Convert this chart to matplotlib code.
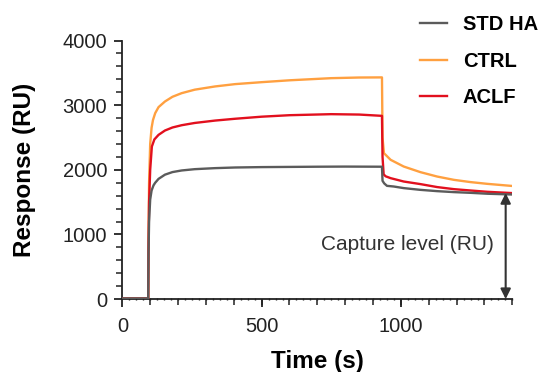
import matplotlib.pyplot as plt
from matplotlib.ticker import MultipleLocator, FixedLocator

plt.rcParams['font.family'] = ['Liberation Sans', 'DejaVu Sans']

# sensorgram readings (time in s, response in RU)
std_t = [0, 93, 94, 96, 100, 105, 112, 118, 130, 153, 180, 213, 260, 333, 405,
         500, 600, 700, 800, 932, 934, 940, 950, 974, 1010, 1070, 1130, 1190,
         1250, 1310, 1400]
std_v = [10, 10, 700, 1200, 1540, 1680, 1760, 1800, 1860, 1925, 1965, 1990,
         2010, 2026, 2036, 2042, 2045, 2048, 2050, 2048, 1830, 1790, 1752, 1742,
         1717, 1690, 1670, 1655, 1644, 1630, 1618]

ctrl_t = [0, 93, 94, 96, 100, 105, 110, 118, 130, 153, 180, 213, 260, 333, 405,
          500, 600, 750, 850, 932, 934, 939, 963, 1010, 1070, 1130, 1190, 1250,
          1310, 1400]
ctrl_v = [10, 10, 900, 1800, 2400, 2650, 2770, 2877, 2970, 3057, 3130, 3186,
          3240, 3290, 3326, 3356, 3385, 3418, 3428, 3430, 2500, 2258, 2155, 2051,
          1964, 1896, 1845, 1810, 1783, 1750]

aclf_t = [0, 93, 94, 96, 100, 106, 115, 130, 153, 180, 213, 260, 333, 405, 500,
          600, 750, 850, 932, 934, 938, 945, 963, 1010, 1070, 1130, 1190, 1250,
          1310, 1400]
aclf_v = [10, 10, 800, 1500, 2000, 2360, 2470, 2541, 2608, 2655, 2690, 2725,
          2762, 2790, 2822, 2845, 2861, 2855, 2835, 2200, 1930, 1900, 1871, 1819,
          1779, 1733, 1701, 1680, 1660, 1640]

labels = ['STD HA', 'CTRL', 'ACLF']
colors = ['#5b5b5b', '#ffa040', '#e2101e']

capture_t = 1376
capture_top = 1640

fig = plt.figure(figsize=(5.42, 3.72), dpi=100)
ax = fig.add_axes([0.2257, 0.196, 0.7196, 0.695])

h_ctrl, = ax.plot(ctrl_t, ctrl_v, color=colors[1], lw=1.7, zorder=2)
h_aclf, = ax.plot(aclf_t, aclf_v, color=colors[2], lw=1.7, zorder=3)
h_std, = ax.plot(std_t, std_v, color=colors[0], lw=1.7, zorder=4)

ax.set_xlim(0, 1400)
ax.set_ylim(0, 4000)
for s in ['top', 'right']:
    ax.spines[s].set_visible(False)
for s in ['left', 'bottom']:
    ax.spines[s].set_linewidth(1.3)
    ax.spines[s].set_color('#222222')

ax.xaxis.set_major_locator(FixedLocator([0, 500, 1000]))
ax.xaxis.set_minor_locator(MultipleLocator(25))
ax.yaxis.set_major_locator(MultipleLocator(1000))
ax.yaxis.set_minor_locator(MultipleLocator(200))
ax.tick_params(axis='both', which='major', length=6, width=1.3, color='#222222',
               labelsize=14.5, labelcolor='#222222')
ax.tick_params(axis='x', which='major', pad=7)
ax.tick_params(axis='y', which='major', pad=5)
ax.tick_params(axis='y', which='minor', length=4, width=1.1, color='#222222')
ax.tick_params(axis='x', which='minor', length=2, width=1.0, color='#222222',
               direction='inout')

# medium ticks every 100 s
sec = ax.secondary_xaxis('bottom')
sec.xaxis.set_major_locator(FixedLocator(list(range(100, 1401, 100))))
sec.tick_params(length=4, width=1.1, color='#222222', labelbottom=False)
sec.spines['bottom'].set_visible(False)

ax.set_xlabel('Time (s)', fontsize=17.5, fontweight='bold', labelpad=10)
ax.set_ylabel('Response (RU)', fontsize=17.5, fontweight='bold', labelpad=19)

ax.annotate('', xy=(capture_t, 0), xytext=(capture_t, capture_top),
            arrowprops=dict(arrowstyle='<|-|>', color='#333333', lw=1.5,
                            mutation_scale=15, shrinkA=0, shrinkB=0),
            zorder=5)
ax.text(1023, 840, 'Capture level (RU)', fontsize=15, color='#333333',
        ha='center', va='center')

fig.legend([h_std, h_ctrl, h_aclf], labels, loc='upper left',
           bbox_to_anchor=(0.748, 0.998), frameon=False, handlelength=1.35,
           handletextpad=0.8, labelspacing=0.88, borderpad=0.2,
           prop={'size': 14.5, 'weight': 'bold'})

fig.savefig('out.png', dpi=100)
